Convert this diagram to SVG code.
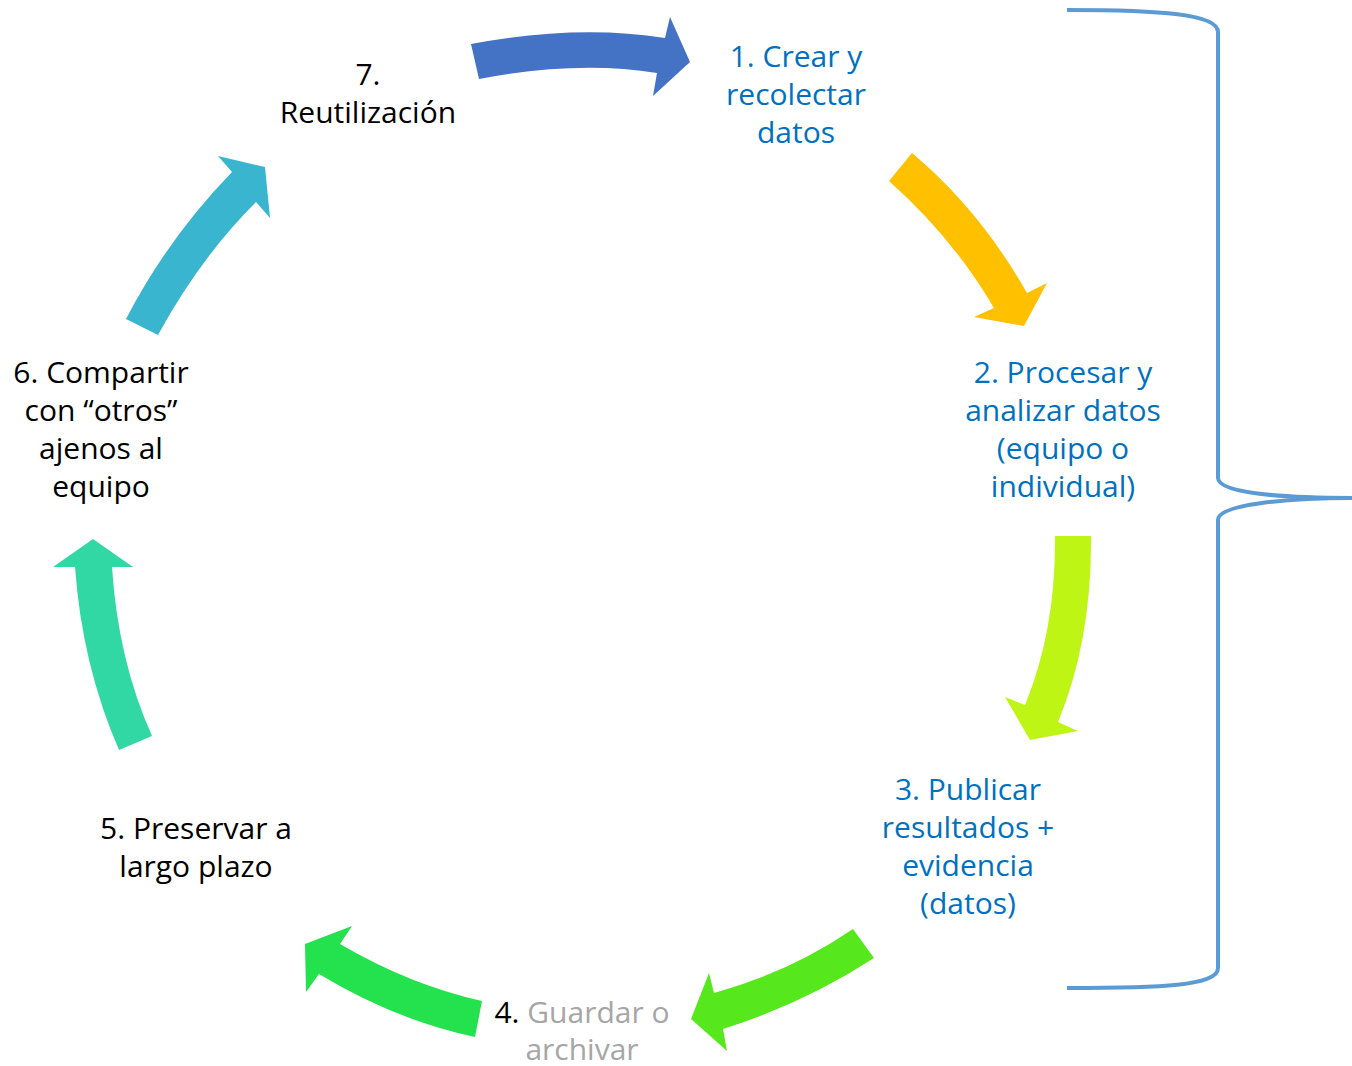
<svg xmlns="http://www.w3.org/2000/svg" width="1352" height="1066" viewBox="0 0 1352 1066">
<style>
text{font-family:"Open Sans","Liberation Sans",sans-serif;font-size:30px;text-anchor:middle}
.blue{fill:#0070C0}
.black{fill:#000}
.gray{fill:#A6A6A6}
.brace{fill:none;stroke:#5B9BD5;stroke-width:4}
</style>
<rect width="1352" height="1066" fill="#fff"/>
<g id="connectors">
<path id="a1" fill="#4472C4" d="M471,44 Q577,24 665,38 L670,17 L690,62 L653,96 L657,73 Q577,60 479,79 Z"/>
<path id="a2" fill="#FFC000" d="M912,153 Q980,210 1027,293 L1047,283 L1024,326 L974,317 L994,308 Q953,238 889,181 Z"/>
<path id="a3" fill="#BEF514" d="M1091,536 Q1092,640 1058,722 L1078,731 L1030,740 L1005,697 L1025,705 Q1056,630 1055,536 Z"/>
<path id="a4" fill="#56E81D" d="M853,929 Q790,972 714,993 L709,973 L691,1019 L727,1051 L723,1029 Q805,1003 874,958 Z"/>
<path id="a5" fill="#23E24D" d="M482,1001 Q410,985 340,944 L352,926 L305,944 L306,992 L319,974 Q395,1020 475,1037 Z"/>
<path id="a6" fill="#32D8A4" d="M119,750 Q82,665 75,567 L53,567 L93,539 L133,567 L112,567 Q118,660 152,736 Z"/>
<path id="a7" fill="#3AB5CF" d="M126,319 Q168,238 232,172 L218,156 L265,167 L270,218 L256,202 Q200,258 158,335 Z"/>
</g>
<g id="brace">
<path class="brace" d="M1067,10 C1160,10 1218,14 1218,32 L1218,478 C1218,494 1290,498 1352,498"/>
<path class="brace" d="M1352,498 C1290,498 1218,504 1218,520 L1218,968 C1218,986 1160,988 1067,988"/>
</g>
<g id="n1" class="blue"><text x="796" y="67">1. Crear y</text><text x="796" y="105">recolectar</text><text x="796" y="143">datos</text></g>
<g id="n2" class="blue"><text x="1063" y="383">2. Procesar y</text><text x="1063" y="421">analizar datos</text><text x="1063" y="459">(equipo o</text><text x="1063" y="497">individual)</text></g>
<g id="n3" class="blue"><text x="968" y="800">3. Publicar</text><text x="968" y="838">resultados +</text><text x="968" y="876">evidencia</text><text x="968" y="914">(datos)</text></g>
<g id="n4"><text x="582" y="1023"><tspan class="black">4. </tspan><tspan class="gray">Guardar o</tspan></text><text class="gray" x="582" y="1060">archivar</text></g>
<g id="n5" class="black"><text x="196" y="839">5. Preservar a</text><text x="196" y="877">largo plazo</text></g>
<g id="n6" class="black"><text x="101" y="383">6. Compartir</text><text x="101" y="421">con “otros”</text><text x="101" y="459">ajenos al</text><text x="101" y="497">equipo</text></g>
<g id="n7" class="black"><text x="368" y="85">7.</text><text x="368" y="123">Reutilización</text></g>
</svg>
